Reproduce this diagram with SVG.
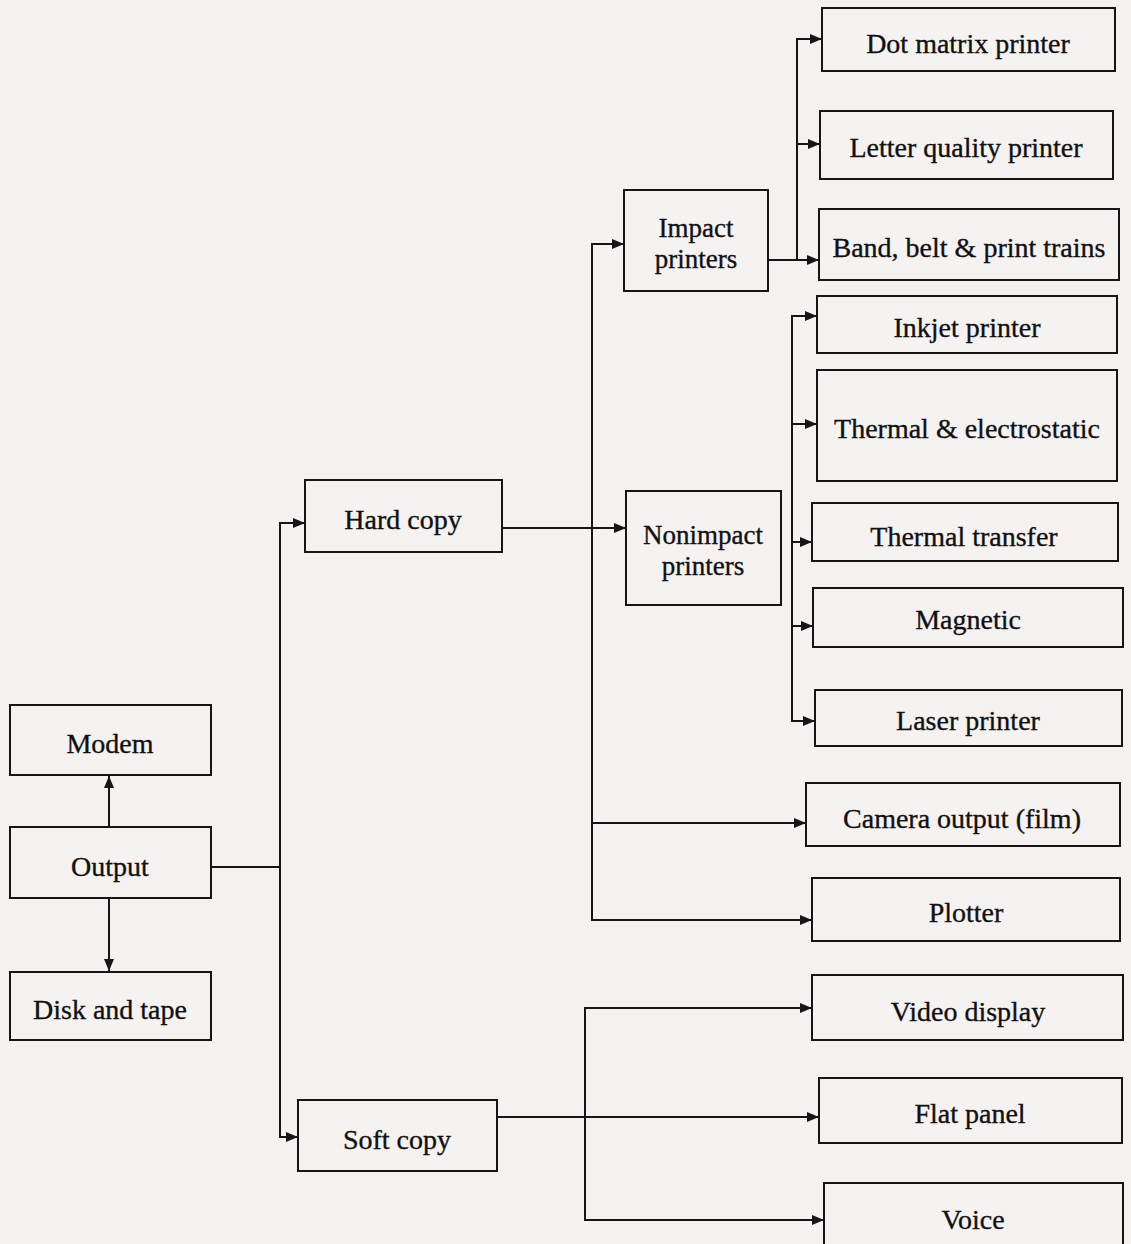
<svg xmlns="http://www.w3.org/2000/svg" width="1131" height="1244" viewBox="0 0 1131 1244">
  <style>
    .box { fill: none; stroke: #161616; stroke-width: 2; }
    .lbl { font-family: "Liberation Serif", "Times New Roman", serif; font-size: 28px; fill: #111; stroke: #111; stroke-width: 0.35; text-anchor: middle; }
    .lbl2 { font-size: 27px; }
    .wire { fill: none; stroke: #161616; stroke-width: 2; }
    .arr { fill: none; stroke: #161616; stroke-width: 2; marker-end: url(#head); }
  </style>
  <defs>
    <marker id="head" viewBox="0 0 12 10" refX="12" refY="5" markerWidth="12" markerHeight="10" markerUnits="userSpaceOnUse" orient="auto">
      <path d="M0,0 L12,5 L0,10 Z" fill="#161616"/>
    </marker>
  </defs>
  <rect width="1131" height="1244" fill="#f6f2f2"/>

  <!-- connectors -->
  <g id="connectors">
    <!-- Output up/down -->
    <line class="arr" x1="109" y1="827" x2="109" y2="776"/>
    <line class="arr" x1="109" y1="898" x2="109" y2="971"/>
    <!-- Output to hard/soft copy -->
    <line class="wire" x1="211" y1="867" x2="280" y2="867"/>
    <line class="wire" x1="280" y1="522" x2="280" y2="1137"/>
    <line class="arr" x1="279" y1="523" x2="305" y2="523"/>
    <line class="arr" x1="279" y1="1137" x2="298" y2="1137"/>
    <!-- Hard copy branches -->
    <line class="arr" x1="502" y1="528" x2="626" y2="528"/>
    <line class="wire" x1="592" y1="244" x2="592" y2="920"/>
    <line class="arr" x1="591" y1="244" x2="624" y2="244"/>
    <line class="arr" x1="591" y1="823" x2="806" y2="823"/>
    <line class="arr" x1="591" y1="920" x2="812" y2="920"/>
    <!-- Impact printers branches -->
    <line class="arr" x1="768" y1="260" x2="819" y2="260"/>
    <line class="wire" x1="797" y1="38" x2="797" y2="260"/>
    <line class="arr" x1="796" y1="39" x2="822" y2="39"/>
    <line class="arr" x1="796" y1="144" x2="820" y2="144"/>
    <!-- Nonimpact printers branches -->
    <line class="wire" x1="792" y1="316" x2="792" y2="721"/>
    <line class="arr" x1="791" y1="316" x2="817" y2="316"/>
    <line class="arr" x1="791" y1="424" x2="817" y2="424"/>
    <line class="arr" x1="791" y1="542" x2="812" y2="542"/>
    <line class="arr" x1="791" y1="626" x2="813" y2="626"/>
    <line class="arr" x1="791" y1="721" x2="815" y2="721"/>
    <!-- Soft copy branches -->
    <line class="arr" x1="497" y1="1117" x2="819" y2="1117"/>
    <line class="wire" x1="585" y1="1008" x2="585" y2="1220"/>
    <line class="arr" x1="584" y1="1008" x2="812" y2="1008"/>
    <line class="arr" x1="584" y1="1220" x2="824" y2="1220"/>
  </g>

  <g id="modem"><rect class="box" x="10" y="705" width="201" height="70"/><text class="lbl" x="110" y="753">Modem</text></g>
  <g id="output"><rect class="box" x="10" y="827" width="201" height="71"/><text class="lbl" x="110" y="876">Output</text></g>
  <g id="disk-tape"><rect class="box" x="10" y="972" width="201" height="68"/><text class="lbl" x="110" y="1019">Disk and tape</text></g>

  <g id="hard-copy"><rect class="box" x="305" y="480" width="197" height="72"/><text class="lbl" x="403" y="529">Hard copy</text></g>
  <g id="soft-copy"><rect class="box" x="298" y="1100" width="199" height="71"/><text class="lbl" x="397" y="1149">Soft copy</text></g>

  <g id="impact"><rect class="box" x="624" y="190" width="144" height="101"/><text class="lbl lbl2" x="696" y="237">Impact</text><text class="lbl lbl2" x="696" y="268">printers</text></g>
  <g id="nonimpact"><rect class="box" x="626" y="491" width="155" height="114"/><text class="lbl lbl2" x="703" y="544">Nonimpact</text><text class="lbl lbl2" x="703" y="575">printers</text></g>

  <g id="dot-matrix"><rect class="box" x="822" y="8" width="293" height="63"/><text class="lbl" x="968" y="53">Dot matrix printer</text></g>
  <g id="letter-quality"><rect class="box" x="820" y="111" width="293" height="68"/><text class="lbl" x="966" y="157">Letter quality printer</text></g>
  <g id="band-belt"><rect class="box" x="819" y="209" width="300" height="71"/><text class="lbl" x="969" y="257">Band, belt &amp; print trains</text></g>
  <g id="inkjet"><rect class="box" x="817" y="296" width="300" height="57"/><text class="lbl" x="967" y="337">Inkjet printer</text></g>
  <g id="thermal-electro"><rect class="box" x="817" y="370" width="300" height="111"/><text class="lbl" x="967" y="438">Thermal &amp; electrostatic</text></g>
  <g id="thermal-transfer"><rect class="box" x="812" y="503" width="306" height="58"/><text class="lbl" x="964" y="546">Thermal transfer</text></g>
  <g id="magnetic"><rect class="box" x="813" y="588" width="310" height="59"/><text class="lbl" x="968" y="629">Magnetic</text></g>
  <g id="laser"><rect class="box" x="815" y="690" width="307" height="56"/><text class="lbl" x="968" y="730">Laser printer</text></g>
  <g id="camera"><rect class="box" x="806" y="783" width="314" height="63"/><text class="lbl" x="962" y="828">Camera output (film)</text></g>
  <g id="plotter"><rect class="box" x="812" y="878" width="308" height="63"/><text class="lbl" x="966" y="922">Plotter</text></g>
  <g id="video"><rect class="box" x="812" y="975" width="311" height="65"/><text class="lbl" x="968" y="1021">Video display</text></g>
  <g id="flat-panel"><rect class="box" x="819" y="1078" width="303" height="65"/><text class="lbl" x="970" y="1123">Flat panel</text></g>
  <g id="voice"><rect class="box" x="824" y="1183" width="299" height="70"/><text class="lbl" x="973" y="1229">Voice</text></g>
</svg>
